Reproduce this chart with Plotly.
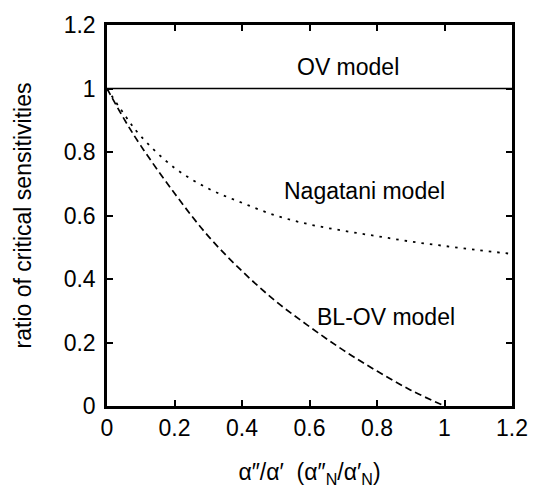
import plotly.graph_objects as go

# data
ov_x = [0.0, 1.2]
ov_y = [1.0, 1.0]

nag_x = [0.0, 0.05, 0.1, 0.2, 0.3, 0.4, 0.5, 0.6, 0.7, 0.8, 0.9, 1.0, 1.1, 1.2]
nag_y = [1.0, 0.92, 0.85, 0.75, 0.685, 0.64, 0.6, 0.572, 0.552, 0.535, 0.518, 0.504, 0.491, 0.479]

bl_x = [0.0, 0.05, 0.1, 0.2, 0.3, 0.4, 0.5, 0.6, 0.7, 0.8, 0.9, 1.0]
bl_y = [1.0, 0.905, 0.82, 0.67, 0.535, 0.425, 0.33, 0.25, 0.176, 0.11, 0.05, 0.0]

x_ticks = [0, 0.2, 0.4, 0.6, 0.8, 1, 1.2]
x_tick_labels = ["0", "0.2", "0.4", "0.6", "0.8", "1", "1.2"]
y_ticks = [0, 0.2, 0.4, 0.6, 0.8, 1, 1.2]
y_tick_labels = ["0", "0.2", "0.4", "0.6", "0.8", "1", "1.2"]

labels = ["OV model", "Nagatani model", "BL-OV model"]
label_x = [0.714, 0.764, 0.827]
label_y = [1.069, 0.677, 0.281]

FONT = "Liberation Sans, Arial, sans-serif"
FS = 23

fig = go.Figure()
fig.add_trace(go.Scatter(x=ov_x, y=ov_y, mode="lines",
                         line=dict(color="black", width=1.5), showlegend=False))
fig.add_trace(go.Scatter(x=nag_x, y=nag_y, mode="lines", line_shape="spline",
                         line=dict(color="black", width=1.8, dash="2.5px,6px"), showlegend=False))
fig.add_trace(go.Scatter(x=bl_x, y=bl_y, mode="lines", line_shape="spline",
                         line=dict(color="black", width=1.7, dash="7px,4px"), showlegend=False))

for t, lx, ly in zip(labels, label_x, label_y):
    fig.add_annotation(x=lx, y=ly, text=t, showarrow=False,
                       font=dict(family=FONT, size=FS, color="black"),
                       xanchor="center", yanchor="middle")

axis_common = dict(showline=True, linecolor="black", linewidth=2.5, mirror="ticks",
                   ticks="inside", ticklen=6, tickwidth=2, tickcolor="black",
                   showgrid=False, zeroline=False,
                   tickfont=dict(family=FONT, size=FS, color="black"))

fig.update_xaxes(range=[0, 1.2], tickvals=x_ticks, ticktext=x_tick_labels,
                 title=dict(text="α″/α′  (α″<sub>N</sub>/α′<sub>N</sub>)",
                            font=dict(family=FONT, size=FS, color="black"), standoff=24),
                 **axis_common)
fig.update_yaxes(range=[0, 1.2], tickvals=y_ticks, ticktext=y_tick_labels,
                 ticklabelstandoff=4,
                 title=dict(text="ratio of critical sensitivities",
                            font=dict(family=FONT, size=FS, color="black"), standoff=26),
                 **axis_common)

fig.update_layout(width=540, height=493, plot_bgcolor="white", paper_bgcolor="white",
                  margin=dict(l=107, r=28, t=13, b=79), showlegend=False)

fig.write_html("out.html")
